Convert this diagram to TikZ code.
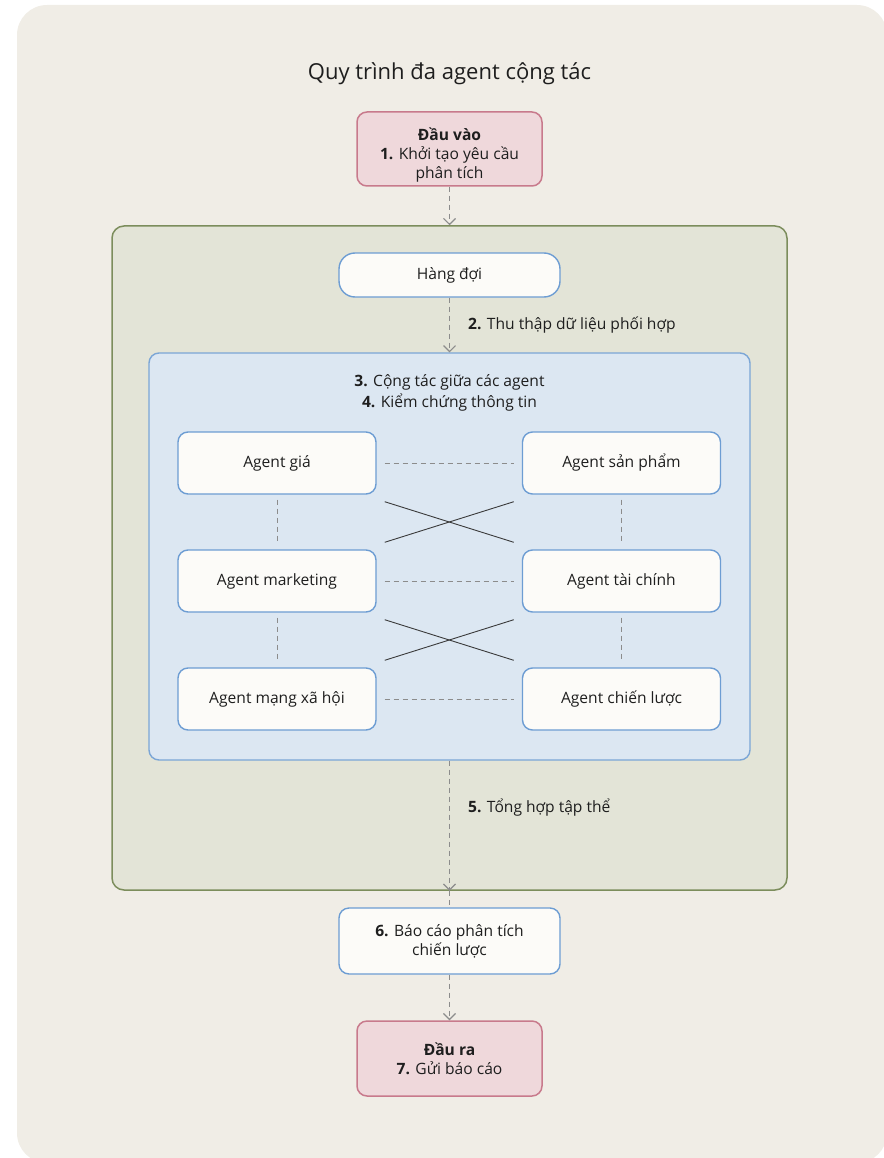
\documentclass[tikz,border=0pt]{standalone}
\usepackage{fontspec}
\setmainfont{Open Sans}
\usetikzlibrary{arrows.meta,calc}

\definecolor{pagebg}{HTML}{F0EDE6}
\definecolor{inkc}{HTML}{1E1E1E}
\definecolor{pinkfill}{HTML}{EFD8DB}
\definecolor{pinkline}{HTML}{C87A8C}
\definecolor{greenfill}{HTML}{E3E4D7}
\definecolor{greenline}{HTML}{7C8D5C}
\definecolor{bluefill}{HTML}{DCE7F2}
\definecolor{blueline}{HTML}{7BA6D6}
\definecolor{cardfill}{HTML}{FCFBF8}
\definecolor{cardline}{HTML}{6D9DD3}
\definecolor{linkgray}{HTML}{8C8C8C}
\definecolor{crossline}{HTML}{3A3A3A}

\tikzset{
  every node/.style={text=inkc, font=\fontsize{15.6}{19}\selectfont},
  terminal/.style={draw=pinkline, fill=pinkfill, line width=1.5pt, rounded corners=10pt,
    minimum width=185pt, minimum height=74pt, align=center, inner sep=0pt},
  card/.style={draw=cardline, fill=cardfill, line width=1.4pt, rounded corners=10pt,
    minimum width=198pt, minimum height=62pt, align=center, inner sep=0pt},
  flow/.style={draw=linkgray, line width=1.1pt, dash pattern=on 5pt off 4pt,
    -{Straight Barb[length=6pt,width=12pt,line width=1.1pt]}},
  flowplain/.style={draw=linkgray, line width=1.1pt, dash pattern=on 5pt off 4pt},
  peer/.style={draw=linkgray, line width=1pt, dash pattern=on 5pt off 4pt},
  cross/.style={draw=crossline, line width=0.9pt},
  steplabel/.style={anchor=west, inner sep=0pt},
}

\begin{document}
\begin{tikzpicture}[x=1pt, y=-1pt]
\useasboundingbox (0,0) rectangle (883,1158);

% page card
\fill[pagebg, rounded corners=30pt] (17,5) rectangle (887,1163);

% title
\node[font=\fontsize{22}{26}\selectfont] (title) at (449.5,74) {Quy trình đa agent cộng tác};

% input
\node[terminal] (inp) at (449.5,149) {\rule{0pt}{24pt}\textbf{Đầu vào}\\\textbf{1.} Khởi tạo yêu cầu\\phân tích};

% outer processing group
\node[draw=greenline, fill=greenfill, line width=1.5pt, rounded corners=12pt,
  minimum width=675pt, minimum height=664pt, inner sep=0pt] (grp) at (449.5,558) {};

% queue
\node[draw=cardline, fill=cardfill, line width=1.4pt, rounded corners=16pt,
  minimum width=221pt, minimum height=44pt, inner sep=0pt] (queue) at (449.5,275) {Hàng đợi};

% collaboration area
\node[draw=blueline, fill=bluefill, line width=1.4pt, rounded corners=10pt,
  minimum width=601pt, minimum height=407pt, inner sep=0pt] (collab) at (449.5,556.5) {};
\node[align=center, font=\fontsize{15.6}{21}\selectfont] (collabtxt) at (449.5,392.5)
  {\textbf{3.} Cộng tác giữa các agent\\\textbf{4.} Kiểm chứng thông tin};

% agents
\node[card] (ag1) at (277,463) {Agent giá};
\node[card] (ag2) at (621.5,463) {Agent sản phẩm};
\node[card] (ag3) at (277,581) {Agent marketing};
\node[card] (ag4) at (621.5,581) {Agent tài chính};
\node[card] (ag5) at (277,699) {Agent mạng xã hội};
\node[card] (ag6) at (621.5,699) {Agent chiến lược};

% report
\node[card, minimum width=221pt, minimum height=66pt] (rep) at (449.5,941)
  {\textbf{6.} Báo cáo phân tích\\chiến lược};

% output
\node[terminal, minimum height=75pt] (out) at (449.5,1058.5) {\textbf{Đầu ra}\\\textbf{7.} Gửi báo cáo};

% main flow
\draw[flow] (inp.south) -- (grp.north);
\draw[flow] (queue.south) -- (collab.north);
\node[steplabel] (lab2) at (468,325) {\textbf{2.} Thu thập dữ liệu phối hợp};
\draw[flow] (collab.south) -- (grp.south);
\node[steplabel] (lab5) at (468,808) {\textbf{5.} Tổng hợp tập thể};
\draw[flowplain] (grp.south) -- (rep.north);
\draw[flow] (rep.south) -- (out.north);

% peer links between agents
\foreach \a/\b in {ag1/ag2, ag3/ag4, ag5/ag6}
  \draw[peer, shorten <=8pt, shorten >=8pt] (\a.east) -- (\b.west);
\foreach \a/\b in {ag1/ag3, ag3/ag5, ag2/ag4, ag4/ag6}
  \draw[peer, shorten <=5pt, shorten >=7pt] (\a.south) -- (\b.north);

% diagonal links
\draw[cross] ($(ag1.south east)+(8,7)$) -- ($(ag4.north west)+(-8,-7)$);
\draw[cross] ($(ag3.north east)+(8,-7)$) -- ($(ag2.south west)+(-8,7)$);
\draw[cross] ($(ag3.south east)+(8,7)$) -- ($(ag6.north west)+(-8,-7)$);
\draw[cross] ($(ag5.north east)+(8,-7)$) -- ($(ag4.south west)+(-8,7)$);
\end{tikzpicture}
\end{document}
